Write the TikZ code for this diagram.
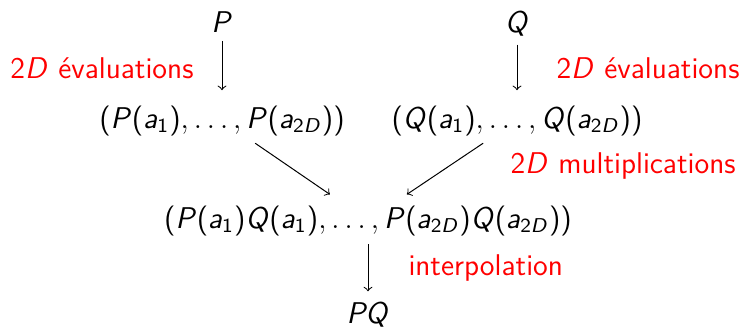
\documentclass[tikz,border=0pt]{standalone}
\DeclareSymbolFont{sfop}{OT1}{cmss}{m}{n}
\DeclareSymbolFont{sflet}{OT1}{cmss}{m}{it}
\DeclareMathSymbol{P}{\mathalpha}{sflet}{"50}
\DeclareMathSymbol{Q}{\mathalpha}{sflet}{"51}
\DeclareMathSymbol{D}{\mathalpha}{sflet}{"44}
\DeclareMathSymbol{a}{\mathalpha}{sflet}{"61}
\DeclareMathSymbol{1}{\mathalpha}{sfop}{"31}
\DeclareMathSymbol{2}{\mathalpha}{sfop}{"32}
\DeclareMathSymbol{(}{\mathopen}{sfop}{"28}
\DeclareMathSymbol{)}{\mathclose}{sfop}{"29}
\tikzset{
  obj/.style={anchor=base, font=\sffamily\fontsize{11.6}{14}\selectfont},
  lbl/.style={anchor=base west, text=red, inner sep=0pt, font=\sffamily\fontsize{12}{14}\selectfont},
  arr/.style={->, line width=0.4pt}
}
\begin{document}
\begin{tikzpicture}[x=0.4pt,y=-0.4pt]
\useasboundingbox (0,0) rectangle (740,327);
\node[obj] (P) at (222,32) {$P$};
\node[obj] (Q) at (517,32) {$Q$};
\node[obj] (L) at (222,128) {$(P(a_1),\ldots,P(a_{2D}))$};
\node[obj] (R) at (517,128) {$(Q(a_1),\ldots,Q(a_{2D}))$};
\node[obj] (B) at (368,228) {$(P(a_1)Q(a_1),\ldots,P(a_{2D})Q(a_{2D}))$};
\node[obj] (PQ) at (368,323) {$PQ$};
\node[lbl] (e1) at (10,78) {$2D$ évaluations};
\node[lbl] (e2) at (556,78) {$2D$ évaluations};
\node[lbl] (m) at (510,173) {$2D$ multiplications};
\node[lbl] (i) at (408,275) {interpolation};
\draw[arr, shorten >=2.6pt] (P) -- (L);
\draw[arr, shorten >=2.6pt] (Q) -- (R);
\draw[arr, shorten <=-0.8pt, shorten >=1.6pt] (L) -- (B);
\draw[arr, shorten <=-0.8pt, shorten >=1.6pt] (R) -- (B);
\draw[arr, shorten >=0.8pt] (B) -- (PQ);
\end{tikzpicture}
\end{document}
